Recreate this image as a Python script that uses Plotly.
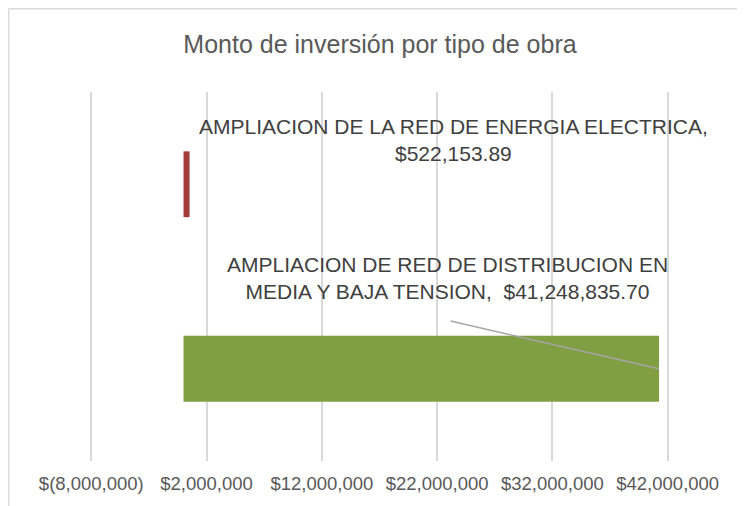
import plotly.graph_objects as go

# data (bottom category first, plotly draws horizontal bars bottom-up)
obras = ["AMPLIACION DE RED DE DISTRIBUCION EN MEDIA Y BAJA TENSION",
         "AMPLIACION DE LA RED DE ENERGIA ELECTRICA"]
montos = [41248835.70, 522153.89]
colores = ["rgb(128,158,66)", "rgb(162,60,58)"]
tick_vals = [-8000000, 2000000, 12000000, 22000000, 32000000, 42000000]
tick_text = ["$(8,000,000)", "$2,000,000", "$12,000,000", "$22,000,000",
             "$32,000,000", "$42,000,000"]
etiquetas = ["AMPLIACION DE RED DE DISTRIBUCION EN<br>MEDIA Y BAJA TENSION,  $41,248,835.70",
             "AMPLIACION DE LA RED DE ENERGIA ELECTRICA,<br>$522,153.89"]

# page body has an 8px margin, so the figure is 8px smaller than the window
W, H = 737, 498
ML, MR, MT, MB = 81.2, 74.7, 84, 45
PW, PH = W - ML - MR, H - MT - MB
fuente = "Liberation Sans, Arial, sans-serif"

fig = go.Figure()
fig.add_trace(go.Bar(
    x=montos,
    y=obras,
    orientation="h",
    width=0.357,
    marker=dict(color=colores, line=dict(width=0)),
    showlegend=False,
    hoverinfo="x+y",
))

# data labels
fig.add_annotation(
    text=etiquetas[1], xref="paper", yref="paper", x=0.6278, y=0.870,
    xanchor="center", yanchor="middle",
    showarrow=False, align="center",
    font=dict(family=fuente, size=21, color="#404040"),
)
fig.add_annotation(
    text=etiquetas[0], xref="paper", yref="paper", x=0.6174, y=0.4946,
    xanchor="center", yanchor="middle",
    showarrow=False, align="center",
    font=dict(family=fuente, size=21, color="#404040"),
)
# leader line to the green bar end
fig.add_annotation(
    text="", x=montos[0], y=obras[0], xref="x", yref="y",
    showarrow=True, arrowhead=0, arrowwidth=1.5, arrowcolor="#a6a6a6",
    ax=-210, ay=-48, standoff=0, startstandoff=0,
)

# chart border (only top/left visible in the crop)
bx = (0.75 - ML) / PW
by = (PH + MT - 0.75) / PH
fig.add_shape(type="line", xref="paper", yref="paper",
              x0=bx, x1=2, y0=by, y1=by,
              line=dict(color="#d9d9d9", width=1.5))
fig.add_shape(type="line", xref="paper", yref="paper",
              x0=bx, x1=bx, y0=by, y1=-2,
              line=dict(color="#d9d9d9", width=1.5))

fig.update_layout(
    width=W, height=H,
    margin=dict(l=ML, r=MR, t=MT, b=MB, pad=0),
    paper_bgcolor="white", plot_bgcolor="white",
    title=dict(text="Monto de inversión por tipo de obra",
               xref="container", x=372 / W, xanchor="center",
               yref="container", y=1 - 36 / H, yanchor="middle",
               font=dict(family=fuente, size=25, color="#595959")),
    xaxis=dict(range=[-8200000, 42200000], tickvals=tick_vals, ticktext=tick_text,
               showgrid=True, gridcolor="#d9d9d9", gridwidth=1.5,
               zeroline=False, showline=False, ticks="", automargin=False,
               ticklabelstandoff=9,
               tickfont=dict(family=fuente, size=18.5, color="#595959")),
    yaxis=dict(showticklabels=False, showgrid=False, zeroline=False,
               showline=False, ticks="", range=[-0.5, 1.5], automargin=False),
    bargap=0.643,
)

fig.write_html("out.html")
